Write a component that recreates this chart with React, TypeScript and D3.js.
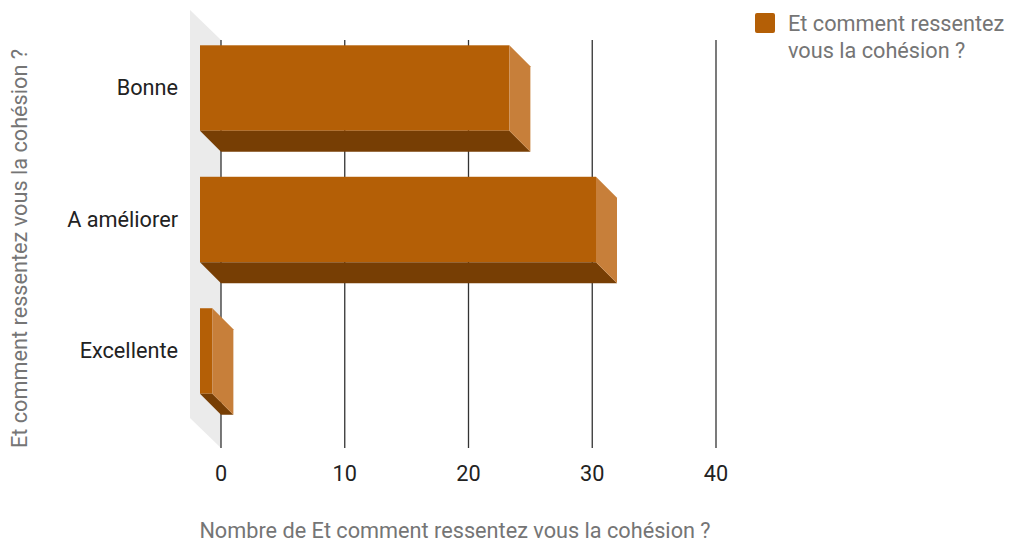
import React from "react";
import * as d3 from "d3";

const categories = ["Bonne", "A améliorer", "Excellente"];
const counts = [25, 32, 1];
const xTicks = [0, 10, 20, 30, 40];
const seriesName = "Et comment ressentez vous la cohésion ?";
const legendLines = ["Et comment ressentez", "vous la cohésion ?"];
const xTitle = "Nombre de Et comment ressentez vous la cohésion ?";
const yTitle = "Et comment ressentez vous la cohésion ?";

const W = 1010;
const H = 544;
const DEPTH = 21; // bar depth offset (x and y)
const FONT = "Roboto, 'Noto Sans', sans-serif";
const FS = 21.7;

export default function App() {
  // scales defined on the back plane of the 3D box
  const x = d3.scaleLinear().domain([0, 40]).range([221, 716]);
  const y = d3
    .scaleBand<string>()
    .domain(categories)
    .range([40, 441])
    .paddingInner(0.35)
    .paddingOuter(0.2);

  const gridTop = 40;
  const gridBottom = 448;

  const bars = categories.map((c, i) => {
    const yb0 = y(c)! - DEPTH; // front face top
    const yb1 = yb0 + y.bandwidth(); // front face bottom
    const xf0 = x(0) - DEPTH;
    const xf1 = x(counts[i]) - DEPTH;
    return { c, xf0, xf1, yb0, yb1 };
  });

  const pts = (p: [number, number][]) => p.map((q) => q.join(",")).join(" ");

  return (
    <div style={{ position: "absolute", left: 0, top: 0 }}>
      <svg width={W} height={H} style={{ display: "block", background: "#fff" }}>
        <title>{seriesName}</title>
        {/* side wall */}
        <polygon
          points={pts([
            [190, 10],
            [x(0), gridTop],
            [x(0), gridBottom],
            [190, 418],
          ])}
          fill="#ebebeb"
        />
        {/* gridlines */}
        {xTicks.map((t) => (
          <line
            key={t}
            x1={x(t)}
            x2={x(t)}
            y1={gridTop}
            y2={gridBottom}
            stroke="#333"
            strokeWidth={1.3}
          />
        ))}
        {/* bars */}
        {bars.map((b) => (
          <g key={b.c}>
            <rect x={b.xf0} y={b.yb0} width={b.xf1 - b.xf0} height={b.yb1 - b.yb0} fill="#b45f06" />
            <polygon
              points={pts([
                [b.xf0, b.yb1],
                [b.xf1, b.yb1],
                [b.xf1 + DEPTH, b.yb1 + DEPTH],
                [b.xf0 + DEPTH, b.yb1 + DEPTH],
              ])}
              fill="#773e04"
            />
            <polygon
              points={pts([
                [b.xf1, b.yb0],
                [b.xf1 + DEPTH, b.yb0 + DEPTH],
                [b.xf1 + DEPTH, b.yb1 + DEPTH],
                [b.xf1, b.yb1],
              ])}
              fill="#c77f3a"
            />
          </g>
        ))}
        {/* category labels */}
        {bars.map((b) => (
          <text
            key={b.c}
            x={178}
            y={(b.yb0 + b.yb1) / 2 + 7}
            textAnchor="end"
            fontFamily={FONT}
            fontSize={FS}
            fill="#222"
          >
            {b.c}
          </text>
        ))}
        {/* x tick labels */}
        {xTicks.map((t) => (
          <text
            key={t}
            x={x(t)}
            y={481}
            textAnchor="middle"
            fontFamily={FONT}
            fontSize={FS}
            fill="#222"
          >
            {t}
          </text>
        ))}
        {/* axis titles */}
        <text x={455} y={538} textAnchor="middle" fontFamily={FONT} fontSize={FS} fill="#757575">
          {xTitle}
        </text>
        <text
          transform="translate(27,248.5) rotate(-90)"
          textAnchor="middle"
          fontFamily={FONT}
          fontSize={FS}
          fill="#757575"
        >
          {yTitle}
        </text>
        {/* legend */}
        <rect x={755} y={13} width={20} height={20} rx={2} fill="#b45f06" />
        {legendLines.map((l, i) => (
          <text key={l} x={788} y={31 + i * 27} fontFamily={FONT} fontSize={FS} fill="#757575">
            {l}
          </text>
        ))}
      </svg>
    </div>
  );
}
